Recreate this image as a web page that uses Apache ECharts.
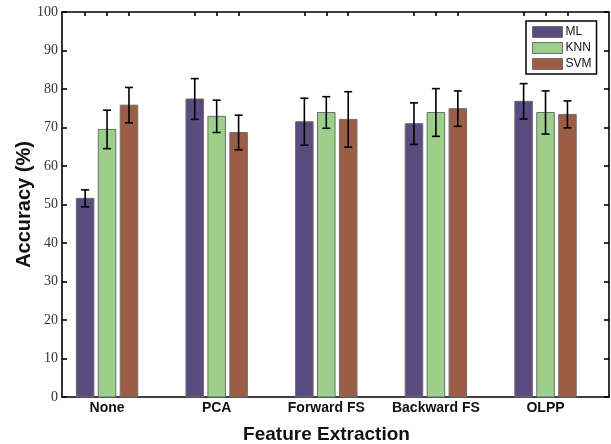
<!DOCTYPE html>
<html>
<head>
<meta charset="utf-8">
<script src="https://cdn.jsdelivr.net/npm/echarts@6/dist/echarts.min.js"></script>
<style>
  html, body { margin: 0; padding: 0; background: #fff; }
  #chart { width: 611px; height: 444px; }
</style>
</head>
<body>
<div id="chart"></div>
<script>
// ---- data ----
const categories = ['None', 'PCA', 'Forward FS', 'Backward FS', 'OLPP'];
const seriesNames = ['ML', 'KNN', 'SVM'];
const mlValues  = [51.6, 77.4, 71.5, 71.0, 76.8];
const mlErrors  = [2.2, 5.3, 6.1, 5.4, 4.6];
const knnValues = [69.5, 72.9, 73.9, 73.9, 73.9];
const knnErrors = [5.0, 4.2, 4.1, 6.2, 5.6];
const svmValues = [75.8, 68.7, 72.1, 74.9, 73.4];
const svmErrors = [4.6, 4.5, 7.2, 4.6, 3.5];
const yTicks = [0, 10, 20, 30, 40, 50, 60, 70, 80, 90, 100];

// ---- layout / style ----
const colors = ['#5a4c80', '#9ccf8a', '#9b5e44'];
const barOffset = 0.2;   // in category units
const barWidth = 0.16;   // in category units
const xMin = 0.589, xMax = 5.579;

const allValues = [mlValues, knnValues, svmValues];
const allErrors = [mlErrors, knnErrors, svmErrors];

const barCenters = [];
categories.forEach((c, i) => {
  for (let j = 0; j < 3; j++) barCenters.push(i + 1 + (j - 1) * barOffset);
});
const catPositions = categories.map((c, i) => i + 1);

function renderItem(params, api) {
  const x = api.value(0), y = api.value(1), e = api.value(2);
  const base = api.coord([x, 0]);
  const top = api.coord([x, y]);
  const w = api.size([barWidth, 0])[0];
  const hi = api.coord([x, y + e]);
  const lo = api.coord([x, y - e]);
  const cap = 4;
  const lineStyle = { stroke: '#000', lineWidth: 1.6 };
  return {
    type: 'group',
    children: [
      { type: 'rect', shape: { x: top[0] - w / 2, y: top[1], width: w, height: base[1] - top[1] },
        style: { fill: api.visual('color'), stroke: '#6e6e6e', lineWidth: 1 } },
      { type: 'line', shape: { x1: hi[0], y1: hi[1], x2: lo[0], y2: lo[1] }, style: lineStyle },
      { type: 'line', shape: { x1: hi[0] - cap, y1: hi[1], x2: hi[0] + cap, y2: hi[1] }, style: lineStyle },
      { type: 'line', shape: { x1: lo[0] - cap, y1: lo[1], x2: lo[0] + cap, y2: lo[1] }, style: lineStyle }
    ]
  };
}

const series = seriesNames.map((name, j) => ({
  name: name,
  type: 'custom',
  renderItem: renderItem,
  itemStyle: { color: colors[j] },
  encode: { x: 0, y: 1 },
  data: allValues[j].map((v, i) => [i + 1 + (j - 1) * barOffset, v, allErrors[j][i]]),
  z: 3
}));

const axisLineStyle = { color: '#000', width: 1.6 };

const option = {
  backgroundColor: '#fff',
  animation: false,
  grid: { left: 62, right: 2, top: 12, bottom: 47, containLabel: false, outerBoundsMode: 'none' },
  legend: {
    orient: 'vertical',
    left: 526, top: 21,
    padding: [5, 5, 4, 6],
    itemWidth: 30, itemHeight: 11, itemGap: 4,
    borderColor: '#000', borderWidth: 1.5,
    backgroundColor: '#fff',
    icon: 'rect',
    itemStyle: { borderColor: '#6e6e6e', borderWidth: 1 },
    textStyle: { fontFamily: 'Liberation Sans', fontSize: 12, color: '#111', lineHeight: 11, padding: [0, 0, 0, -2] },
    data: seriesNames
  },
  xAxis: [
    {
      type: 'value', position: 'bottom', min: xMin, max: xMax,
      axisLine: { show: true, lineStyle: axisLineStyle },
      axisTick: { show: true, inside: true, length: 4, customValues: barCenters, lineStyle: axisLineStyle },
      axisLabel: {
        show: true, customValues: catPositions, margin: 4,
        formatter: v => categories[Math.round(v) - 1] || '',
        fontFamily: 'Liberation Sans', fontWeight: 'bold', fontSize: 14, color: '#111'
      },
      splitLine: { show: false },
      name: 'Feature Extraction', nameLocation: 'middle', nameGap: 28, nameMoveOverlap: false,
      nameTextStyle: { fontFamily: 'Liberation Sans', fontWeight: 'bold', fontSize: 19, color: '#111', padding: [0, 18, 0, 0] }
    },
    {
      type: 'value', position: 'top', min: xMin, max: xMax,
      axisLine: { show: true, onZero: false, lineStyle: axisLineStyle },
      axisTick: { show: true, inside: true, length: 4, customValues: barCenters, lineStyle: axisLineStyle },
      axisLabel: { show: false },
      splitLine: { show: false }
    }
  ],
  yAxis: [
    {
      type: 'value', position: 'left', min: 0, max: 100, interval: 10,
      axisLine: { show: true, lineStyle: axisLineStyle },
      axisTick: { show: true, inside: true, length: 5, lineStyle: axisLineStyle },
      axisLabel: {
        margin: 4, fontFamily: 'Liberation Serif', fontSize: 14, color: '#333',
        formatter: v => yTicks.indexOf(v) >= 0 ? String(v) : ''
      },
      splitLine: { show: false },
      name: 'Accuracy (%)', nameLocation: 'middle', nameGap: 28, nameMoveOverlap: false,
      nameTextStyle: { fontFamily: 'Liberation Sans', fontWeight: 'bold', fontSize: 20, color: '#111' }
    },
    {
      type: 'value', position: 'right', min: 0, max: 100, interval: 10,
      axisLine: { show: true, lineStyle: axisLineStyle },
      axisTick: { show: true, inside: true, length: 5, lineStyle: axisLineStyle },
      axisLabel: { show: false },
      splitLine: { show: false }
    }
  ],
  series: series
};

const chart = echarts.init(document.getElementById('chart'), null, { renderer: 'canvas' });
chart.setOption(option);
</script>
</body>
</html>
